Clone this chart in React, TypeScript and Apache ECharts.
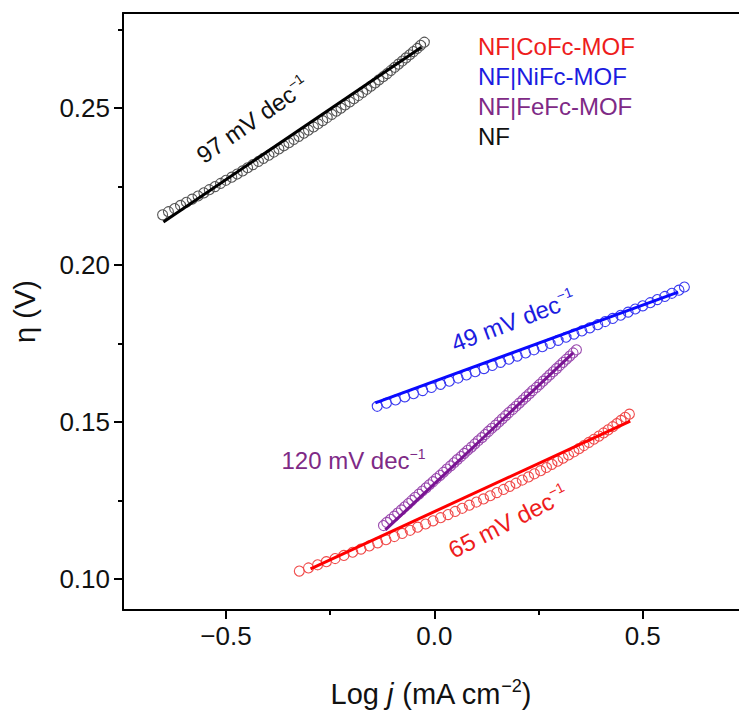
import React, { useEffect, useRef } from "react";
import * as echarts from "echarts";

// ---- data ----
const coLogJ = [-0.324,-0.302,-0.280,-0.259,-0.238,-0.217,-0.196,-0.176,-0.156,-0.136,
  -0.116,-0.096,-0.077,-0.058,-0.040,-0.021,-0.003,0.015,0.033,0.050,
  0.067,0.084,0.101,0.118,0.134,0.150,0.166,0.181,0.196,0.211,
  0.226,0.240,0.255,0.269,0.282,0.296,0.309,0.322,0.335,0.347,
  0.359,0.371,0.383,0.395,0.406,0.417,0.428,0.438,0.448,0.458,0.468];
const coEta = [0.1025,0.1035,0.1045,0.1055,0.1065,0.1075,0.1085,0.1095,0.1105,0.1115,
  0.1125,0.1135,0.1145,0.1155,0.1165,0.1175,0.1185,0.1195,0.1205,0.1215,
  0.1225,0.1235,0.1245,0.1255,0.1265,0.1275,0.1285,0.1295,0.1305,0.1315,
  0.1325,0.1335,0.1345,0.1355,0.1365,0.1375,0.1385,0.1395,0.1405,0.1415,
  0.1425,0.1435,0.1445,0.1455,0.1465,0.1475,0.1485,0.1495,0.1505,0.1515,0.1525];

const niLogJ = [-0.137,-0.115,-0.093,-0.071,-0.050,-0.028,-0.007,0.015,0.036,0.057,
  0.077,0.098,0.119,0.139,0.159,0.179,0.199,0.219,0.239,0.259,
  0.278,0.297,0.316,0.335,0.354,0.373,0.392,0.410,0.428,0.447,
  0.465,0.482,0.500,0.518,0.535,0.553,0.570,0.587,0.600];
const niEta = [0.155,0.156,0.157,0.158,0.159,0.160,0.161,0.162,0.163,0.164,
  0.165,0.166,0.167,0.168,0.169,0.170,0.171,0.172,0.173,0.174,
  0.175,0.176,0.177,0.178,0.179,0.180,0.181,0.182,0.183,0.184,
  0.185,0.186,0.187,0.188,0.189,0.190,0.191,0.192,0.193];

const feLogJ = [-0.122,-0.114,-0.105,-0.096,-0.088,-0.079,-0.071,-0.062,-0.054,-0.046,
  -0.037,-0.029,-0.020,-0.012,-0.003,0.005,0.014,0.022,0.030,0.039,
  0.047,0.055,0.064,0.072,0.080,0.089,0.097,0.105,0.114,0.122,
  0.130,0.138,0.147,0.155,0.163,0.171,0.179,0.188,0.196,0.204,
  0.212,0.220,0.228,0.236,0.245,0.253,0.261,0.269,0.277,0.285,
  0.293,0.301,0.309,0.317,0.325,0.333,0.341];
const feEta = [0.117,0.118,0.119,0.120,0.121,0.122,0.123,0.124,0.125,0.126,
  0.127,0.128,0.129,0.130,0.131,0.132,0.133,0.134,0.135,0.136,
  0.137,0.138,0.139,0.140,0.141,0.142,0.143,0.144,0.145,0.146,
  0.147,0.148,0.149,0.150,0.151,0.152,0.153,0.154,0.155,0.156,
  0.157,0.158,0.159,0.160,0.161,0.162,0.163,0.164,0.165,0.166,
  0.167,0.168,0.169,0.170,0.171,0.172,0.173];

const nfLogJ = [-0.652,-0.638,-0.623,-0.609,-0.595,-0.581,-0.567,-0.553,-0.540,-0.526,
  -0.513,-0.500,-0.486,-0.473,-0.460,-0.448,-0.435,-0.422,-0.410,-0.397,
  -0.385,-0.373,-0.361,-0.349,-0.337,-0.325,-0.313,-0.302,-0.290,-0.279,
  -0.268,-0.257,-0.246,-0.235,-0.224,-0.214,-0.203,-0.193,-0.182,-0.172,
  -0.162,-0.152,-0.142,-0.133,-0.123,-0.113,-0.104,-0.095,-0.086,-0.077,
  -0.068,-0.059,-0.050,-0.041,-0.033,-0.024];
const nfEta = [0.216,0.217,0.218,0.219,0.220,0.221,0.222,0.223,0.224,0.225,
  0.226,0.227,0.228,0.229,0.230,0.231,0.232,0.233,0.234,0.235,
  0.236,0.237,0.238,0.239,0.240,0.241,0.242,0.243,0.244,0.245,
  0.246,0.247,0.248,0.249,0.250,0.251,0.252,0.253,0.254,0.255,
  0.256,0.257,0.258,0.259,0.260,0.261,0.262,0.263,0.264,0.265,
  0.266,0.267,0.268,0.269,0.270,0.271];

// Tafel fit lines (end points)
const coFitLogJ = [-0.297, 0.470];
const coFitEta = [0.1032, 0.1503];
const niFitLogJ = [-0.1415, 0.585];
const niFitEta = [0.1561, 0.1914];
const feFitLogJ = [-0.1175, 0.333];
const feFitEta = [0.1156, 0.172];
const nfFitLogJ = [-0.650, -0.031];
const nfFitEta = [0.2137, 0.2694];

const seriesNames = ["NF|CoFc-MOF", "NF|NiFc-MOF", "NF|FeFc-MOF", "NF"];
const slopeLabels = ["65", "49", "120", "97"];
const slopeLogJ = [0.177, 0.189, -0.194, -0.436];
const slopeEta = [0.1182, 0.1822, 0.1376, 0.2462];
const slopeRotate = [27, 21, 0, 35];

const xTickLabels = [-0.5, 0, 0.5];
const xMinorTicks = [-0.25, 0.25];
const yTickLabels = [0.1, 0.15, 0.2, 0.25];
const yMinorTicks = [0.125, 0.175, 0.225, 0.275];

// ---- styles ----
const FONT = "'Liberation Sans', Arial, Helvetica, sans-serif";
const lineColors = ["#ff0000", "#0a0aff", "#7a1493", "#000000"];
const markerColors = ["#f04a4a", "#3a3af0", "#9a4aae", "#555555"];
const textColors = ["#ee1c1c", "#1c1ce0", "#7e2a86", "#111111"];

const X_MIN = -0.747, X_MAX = 0.731, Y_MIN = 0.0901, Y_MAX = 0.2803;

const zip = (xs: number[], ys: number[]) => xs.map((x, i) => [x, ys[i]]);
const fmtX = (v: number) => (v < 0 ? "\u2212" + Math.abs(v).toFixed(1) : v.toFixed(1));

function buildOption() {
  const groups = [
    [coLogJ, coEta, coFitLogJ, coFitEta],
    [niLogJ, niEta, niFitLogJ, niFitEta],
    [feLogJ, feEta, feFitLogJ, feFitEta],
    [nfLogJ, nfEta, nfFitLogJ, nfFitEta],
  ];
  const series: any[] = [];
  groups.forEach((g, i) => {
    series.push({
      name: seriesNames[i],
      type: "scatter",
      data: zip(g[0], g[1]),
      symbol: "circle",
      symbolSize: 10,
      itemStyle: { color: "rgba(255,255,255,0)", borderColor: markerColors[i], borderWidth: 1.1, opacity: 1 },
      emphasis: { disabled: true },
      z: 2,
    });
    series.push({
      name: seriesNames[i] + " fit",
      type: "line",
      data: zip(g[2], g[3]),
      symbol: "none",
      lineStyle: { color: lineColors[i], width: 3 },
      emphasis: { disabled: true },
      z: 3,
    });
  });
  series.push({
    name: "slopes",
    type: "scatter",
    symbolSize: 0,
    itemStyle: { color: "rgba(0,0,0,0)", opacity: 1 },
    emphasis: { disabled: true },
    z: 5,
    data: slopeLabels.map((s, i) => ({
      value: [slopeLogJ[i], slopeEta[i]],
      label: {
        show: true,
        position: "inside",
        rotate: slopeRotate[i],
        opacity: 1,
        textBorderWidth: 0,
        formatter: "{n|" + s + " mV dec}{s|\u22121}",
        rich: {
          n: { fontSize: 24, color: textColors[i], fontFamily: FONT, lineHeight: 28, textBorderWidth: 0 },
          s: { fontSize: 14, color: textColors[i], fontFamily: FONT, verticalAlign: "top", lineHeight: 28, textBorderWidth: 0 },
        },
      },
    })),
  });

  const axisLineStyle = { color: "#000", width: 2 };
  return {
    animation: false,
    backgroundColor: "#fff",
    grid: { left: 123, top: 13, right: 0, bottom: 103, containLabel: false },
    legend: {
      orient: "vertical",
      left: 468,
      top: 29,
      icon: "none",
      itemWidth: 0,
      itemHeight: 0,
      itemGap: 6,
      selectedMode: false,
      textStyle: { fontSize: 24, fontFamily: FONT },
      data: seriesNames.map((n, i) => ({ name: n, textStyle: { color: textColors[i] } })),
    },
    xAxis: [
      {
        type: "value", min: X_MIN, max: X_MAX, position: "bottom",
        axisLine: { onZero: false, lineStyle: axisLineStyle },
        axisTick: { customValues: xTickLabels, length: 9, lineStyle: axisLineStyle },
        axisLabel: { customValues: xTickLabels, formatter: fmtX, fontSize: 26, color: "#111", fontFamily: FONT, margin: 13 },
        splitLine: { show: false },
        name: "{n|Log }{i|j}{n| (mA cm}{s|\u22122}{n|)}",
        nameLocation: "middle",
        nameGap: 67,
        nameTextStyle: {
          rich: {
            n: { fontSize: 29, color: "#111", fontFamily: FONT, lineHeight: 33 },
            i: { fontSize: 29, color: "#111", fontFamily: FONT, fontStyle: "italic", lineHeight: 33 },
            s: { fontSize: 18, color: "#111", fontFamily: FONT, verticalAlign: "top", lineHeight: 33 },
          },
        },
      },
      {
        type: "value", min: X_MIN, max: X_MAX, position: "bottom",
        axisLine: { show: false, onZero: false },
        axisTick: { customValues: xMinorTicks, length: 5, lineStyle: axisLineStyle },
        axisLabel: { show: false },
        splitLine: { show: false },
      },
      {
        type: "value", min: X_MIN, max: X_MAX, position: "top",
        axisLine: { show: true, onZero: false, lineStyle: axisLineStyle },
        axisTick: { show: false },
        axisLabel: { show: false },
        splitLine: { show: false },
      },
    ],
    yAxis: [
      {
        type: "value", min: Y_MIN, max: Y_MAX, position: "left",
        axisLine: { show: true, onZero: false, lineStyle: axisLineStyle },
        axisTick: { show: true, customValues: yTickLabels, length: 9, lineStyle: axisLineStyle },
        axisLabel: { customValues: yTickLabels, formatter: (v: number) => v.toFixed(2), fontSize: 26, color: "#111", fontFamily: FONT, margin: 13 },
        splitLine: { show: false },
        name: "\u03B7 (V)",
        nameLocation: "middle",
        nameGap: 84,
        nameTextStyle: { fontSize: 29, color: "#111", fontFamily: FONT },
      },
      {
        type: "value", min: Y_MIN, max: Y_MAX, position: "left",
        axisLine: { show: false, onZero: false },
        axisTick: { show: true, customValues: yMinorTicks, length: 5, lineStyle: axisLineStyle },
        axisLabel: { show: false },
        splitLine: { show: false },
      },
    ],
    series,
  };
}

export default function App() {
  const ref = useRef<HTMLDivElement>(null);
  useEffect(() => {
    const chart = echarts.init(ref.current!, null, { renderer: "svg" });
    chart.setOption(buildOption() as any);
    return () => chart.dispose();
  }, []);
  return (
    <div
      ref={ref}
      style={{ position: "absolute", left: 0, top: 0, width: 739, height: 713 }}
    />
  );
}
